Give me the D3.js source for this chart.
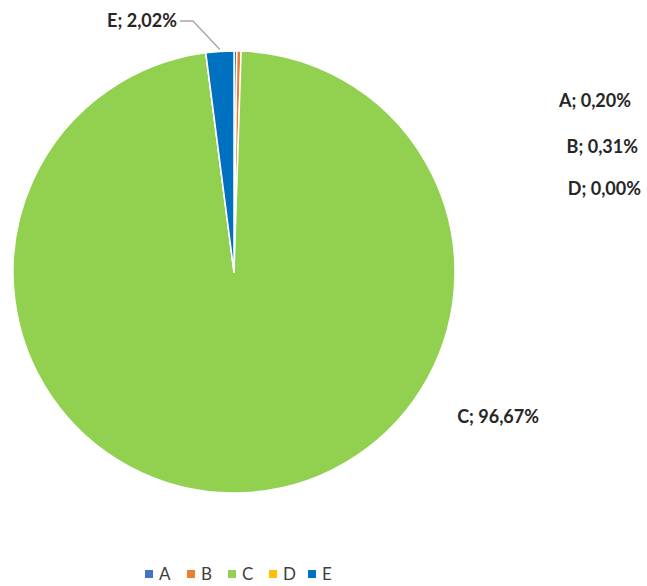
<!DOCTYPE html>
<html>
<head>
<meta charset="utf-8">
<script src="https://cdn.jsdelivr.net/npm/d3@7"></script>
<style>
  html, body { margin: 0; padding: 0; background: #fff; }
  svg { display: block; }
</style>
</head>
<body>
<svg id="chart" width="647" height="586"></svg>
<script>
// Share of each category, in percent
const categories = ["A", "B", "C", "D", "E"];
const values = [0.20, 0.31, 96.67, 0.00, 2.02];
const colors = ["#4472C4", "#ED7D31", "#92D050", "#FFC000", "#0070C0"];

// Where each data label sits (label anchor, text-anchor)
const labelLayout = {
  A: { x: 631, y: 107, anchor: "end" },
  B: { x: 638, y: 153, anchor: "end" },
  C: { x: 539, y: 423, anchor: "end" },
  D: { x: 641, y: 195, anchor: "end" },
  E: { x: 177, y: 27, anchor: "end" }
};

const fmt = v => v.toFixed(2).replace(".", ",") + "%";

const svg = d3.select("#chart");
const cx = 234, cy = 272, radius = 221;

const data = categories.map((c, i) => ({ cat: c, value: values[i], color: colors[i] }));

const pie = d3.pie().sort(null).value(d => d.value);
const arcs = pie(data);
const arc = d3.arc().innerRadius(0).outerRadius(radius);

const g = svg.append("g").attr("transform", `translate(${cx},${cy})`);

g.selectAll("path.slice")
  .data(arcs)
  .join("path")
  .attr("class", "slice")
  .attr("d", arc)
  .attr("fill", d => d.data.color)
  .attr("stroke", "#fff")
  .attr("stroke-width", 1.5)
  .attr("stroke-linejoin", "round");

// Data labels
const labelFont = "Lato, 'Open Sans', sans-serif";
svg.selectAll("text.dlabel")
  .data(arcs)
  .join("text")
  .attr("class", "dlabel")
  .attr("x", d => labelLayout[d.data.cat].x)
  .attr("y", d => labelLayout[d.data.cat].y)
  .attr("text-anchor", d => labelLayout[d.data.cat].anchor)
  .attr("font-family", labelFont)
  .attr("font-weight", "bold")
  .attr("font-size", 18)
  .attr("fill", "#262626")
  .text(d => `${d.data.cat}; ${fmt(d.data.value)}`);

// Leader line for the small E slice
const eArc = arcs[categories.indexOf("E")];
const midE = (eArc.startAngle + eArc.endAngle) / 2;
const ex = cx + radius * Math.sin(midE);
const ey = cy - radius * Math.cos(midE);
const lx = labelLayout.E.x + 3, ly = labelLayout.E.y - 6;
svg.append("polyline")
  .attr("points", `${lx},${ly} ${lx + 13},${ly} ${ex},${ey - 2}`)
  .attr("fill", "none")
  .attr("stroke", "#A6A6A6")
  .attr("stroke-width", 1.3);

// Legend
const legendX = [145, 187, 228, 269, 308];
const legend = svg.append("g").attr("class", "legend");
const items = legend.selectAll("g")
  .data(data)
  .join("g")
  .attr("transform", (d, i) => `translate(${legendX[i]},574)`);
items.append("rect")
  .attr("x", 0).attr("y", -4)
  .attr("width", 8).attr("height", 8)
  .attr("fill", d => d.color);
items.append("text")
  .attr("x", 14).attr("y", 6)
  .attr("font-family", labelFont)
  .attr("font-size", 17)
  .attr("fill", "#404040")
  .text(d => d.cat);
</script>
</body>
</html>
